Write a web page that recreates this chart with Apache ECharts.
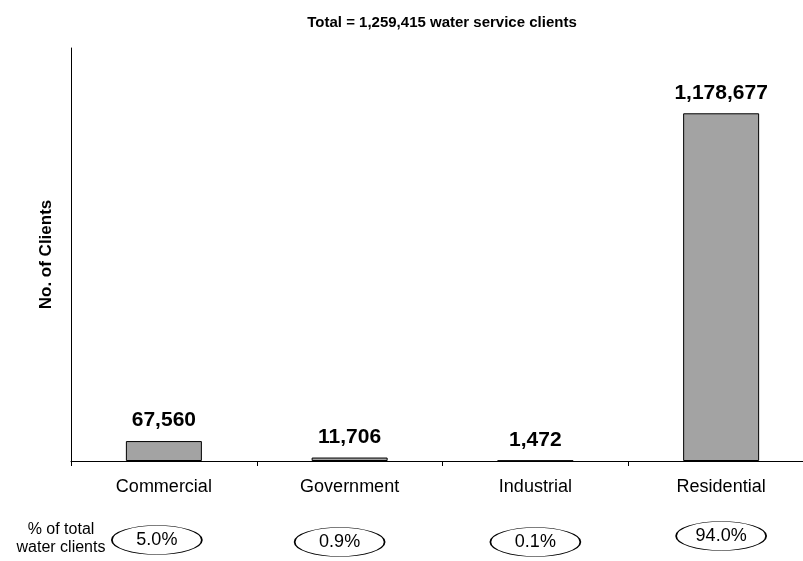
<!DOCTYPE html>
<html>
<head>
<meta charset="utf-8">
<script src="https://cdn.jsdelivr.net/npm/echarts@6/dist/echarts.min.js"></script>
<style>
html,body{margin:0;padding:0;background:#fff;overflow:hidden;width:803px;height:561px;}
#chart{width:815px;height:561px;}
</style>
</head>
<body>
<div id="chart"></div>
<script>
var categories = ['Commercial', 'Government', 'Industrial', 'Residential'];
var clients = [67560, 11706, 1472, 1178677];
var shares = [5.0, 0.9, 0.1, 94.0];
var titleText = 'Total = 1,259,415 water service clients';
var yName = 'No. of Clients';
var shareLabel = '% of total\nwater clients';

var FONT = '"Liberation Sans", Arial, sans-serif';
var ellipseOffsets = [[-7, 2], [-10, 4], [0, 4], [0, -2]];

var chart = echarts.init(document.getElementById('chart'));
chart.setOption({
  backgroundColor: '#ffffff',
  animation: false,
  title: {
    text: titleText,
    left: 437,
    top: 10,
    textAlign: 'center',
    textStyle: {fontFamily: FONT, fontSize: 15, fontWeight: 'bold', color: '#000'}
  },
  grid: [
    {left: 71, top: 48, width: 743, height: 413},
    {left: 71, top: 520, width: 743, height: 36}
  ],
  xAxis: [
    {
      type: 'category', gridIndex: 0, data: categories, boundaryGap: true,
      axisLine: {lineStyle: {color: '#000', width: 1}},
      axisTick: {show: true, length: 5, lineStyle: {color: '#000'}},
      axisLabel: {margin: 17, fontFamily: FONT, fontSize: 18, color: '#000'}
    },
    {
      type: 'category', gridIndex: 1, data: categories, boundaryGap: true,
      axisLine: {show: false}, axisTick: {show: false}, axisLabel: {show: false}
    }
  ],
  yAxis: [
    {
      type: 'value', gridIndex: 0, min: 0, max: 1400000, interval: 200000,
      name: yName, nameLocation: 'middle', nameGap: 16, nameRotate: 90,
      nameTextStyle: {fontFamily: FONT, fontSize: 17, fontWeight: 'bold', color: '#000'},
      axisLine: {show: true, lineStyle: {color: '#000', width: 1}},
      axisTick: {show: false}, axisLabel: {show: false}, splitLine: {show: false}
    },
    {
      type: 'value', gridIndex: 1, min: 0, max: 1,
      axisLine: {show: false}, axisTick: {show: false}, axisLabel: {show: false}, splitLine: {show: false}
    }
  ],
  series: [
    {
      type: 'bar', xAxisIndex: 0, yAxisIndex: 0, data: clients, barWidth: 76,
      itemStyle: {color: '#a3a3a3', borderColor: '#000', borderWidth: 1},
      label: {
        show: true, position: 'top', distance: 10,
        fontFamily: FONT, fontSize: 21, fontWeight: 'bold', color: '#000',
        formatter: function (p) { return p.value.toLocaleString('en-US'); }
      }
    },
    {
      type: 'scatter', xAxisIndex: 1, yAxisIndex: 1,
      data: shares.map(function (s, i) {
        return {value: [categories[i], 0.5], symbolOffset: ellipseOffsets[i]};
      }),
      symbol: 'circle', symbolSize: [90, 29],
      itemStyle: {color: '#fff', borderColor: '#000', borderWidth: 1, opacity: 1},
      label: {
        show: true, position: 'inside',
        fontFamily: FONT, fontSize: 18, color: '#000',
        formatter: function (p) { return shares[p.dataIndex].toFixed(1) + '%'; }
      }
    }
  ],
  graphic: [
    {
      type: 'text', x: 61, y: 521,
      style: {text: shareLabel, fontFamily: FONT, fontSize: 16, fill: '#000', align: 'center', lineHeight: 18}
    }
  ]
});
</script>
</body>
</html>
